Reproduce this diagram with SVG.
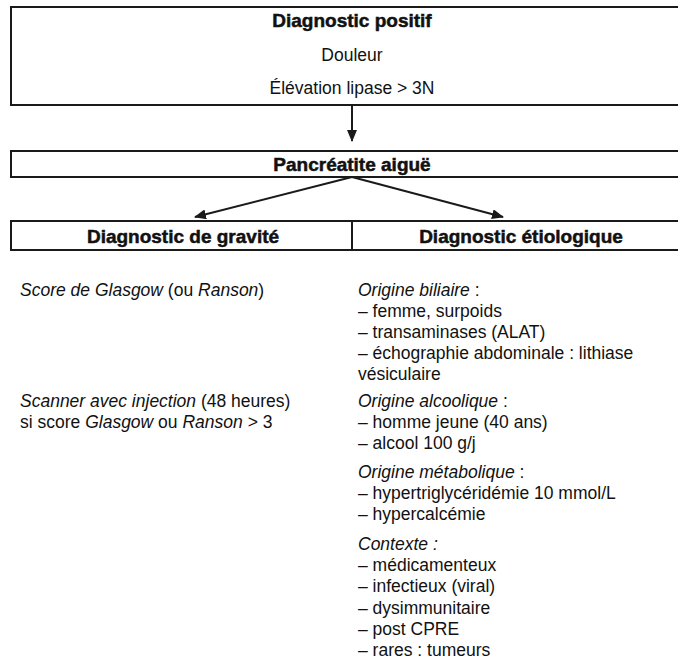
<svg xmlns="http://www.w3.org/2000/svg" width="678" height="661" viewBox="0 0 678 661">
<defs>
<style>
.box{fill:#fff;stroke:#1a1a1a;stroke-width:2}
.ln{stroke:#1a1a1a;stroke-width:2;fill:none}
.hd{font-family:"Liberation Sans",Arial,sans-serif;font-weight:bold;font-size:19px;fill:#111;stroke:#111;stroke-width:0.5;text-anchor:middle}
.tx{font-family:"Liberation Sans",Arial,sans-serif;font-size:17.5px;fill:#111}
.c{text-anchor:middle}
.i{font-style:italic}
</style>
<marker id="ah" viewBox="0 0 12 10" refX="11" refY="5" markerWidth="12" markerHeight="10" markerUnits="userSpaceOnUse" orient="auto">
<path d="M0,0 L12,5 L0,10 Z" fill="#1a1a1a"/>
</marker>
</defs>
<rect width="678" height="661" fill="#fff"/>

<g id="connectors">
<line class="ln" x1="352" y1="105" x2="352" y2="141" marker-end="url(#ah)"/>
<line class="ln" x1="352" y1="177" x2="195" y2="217" marker-end="url(#ah)"/>
<line class="ln" x1="352" y1="177" x2="503" y2="217" marker-end="url(#ah)"/>
</g>

<g id="diagnostic-positif">
<rect class="box" x="11" y="7" width="668" height="98"/>
<text class="hd" x="352" y="27">Diagnostic positif</text>
<text class="tx c" x="352" y="61">Douleur</text>
<text class="tx c" x="352" y="94">Élévation lipase &gt; 3N</text>
</g>

<g id="pancreatite">
<rect class="box" x="11" y="151" width="668" height="26"/>
<text class="hd" x="352" y="171">Pancréatite aiguë</text>
</g>

<g id="headers">
<rect class="box" x="11" y="221" width="668" height="29"/>
<line class="ln" x1="352" y1="221" x2="352" y2="250"/>
<text class="hd" x="183" y="243">Diagnostic de gravité</text>
<text class="hd" x="521" y="243">Diagnostic étiologique</text>
</g>

<g id="gravite">
<text class="tx" x="20" y="296"><tspan class="i">Score de Glasgow</tspan> (ou <tspan class="i">Ranson</tspan>)</text>
<text class="tx" x="20" y="407"><tspan class="i">Scanner avec injection</tspan> (48 heures)</text>
<text class="tx" x="20" y="428">si score <tspan class="i">Glasgow</tspan> ou <tspan class="i">Ranson</tspan> &gt; 3</text>
</g>

<g id="etiologique">
<text class="tx" x="358" y="296"><tspan class="i">Origine biliaire</tspan> :</text>
<text class="tx" x="358" y="317">– femme, surpoids</text>
<text class="tx" x="358" y="338">– transaminases (ALAT)</text>
<text class="tx" x="358" y="359">– échographie abdominale : lithiase</text>
<text class="tx" x="358" y="380">vésiculaire</text>
<text class="tx" x="358" y="407"><tspan class="i">Origine alcoolique</tspan> :</text>
<text class="tx" x="358" y="428">– homme jeune (40 ans)</text>
<text class="tx" x="358" y="449">– alcool 100 g/j</text>
<text class="tx" x="358" y="478"><tspan class="i">Origine métabolique</tspan> :</text>
<text class="tx" x="358" y="499">– hypertriglycéridémie 10 mmol/L</text>
<text class="tx" x="358" y="520">– hypercalcémie</text>
<text class="tx i" x="358" y="550">Contexte :</text>
<text class="tx" x="358" y="571">– médicamenteux</text>
<text class="tx" x="358" y="592">– infectieux (viral)</text>
<text class="tx" x="358" y="614">– dysimmunitaire</text>
<text class="tx" x="358" y="635">– post CPRE</text>
<text class="tx" x="358" y="656">– rares : tumeurs</text>
</g>
</svg>
